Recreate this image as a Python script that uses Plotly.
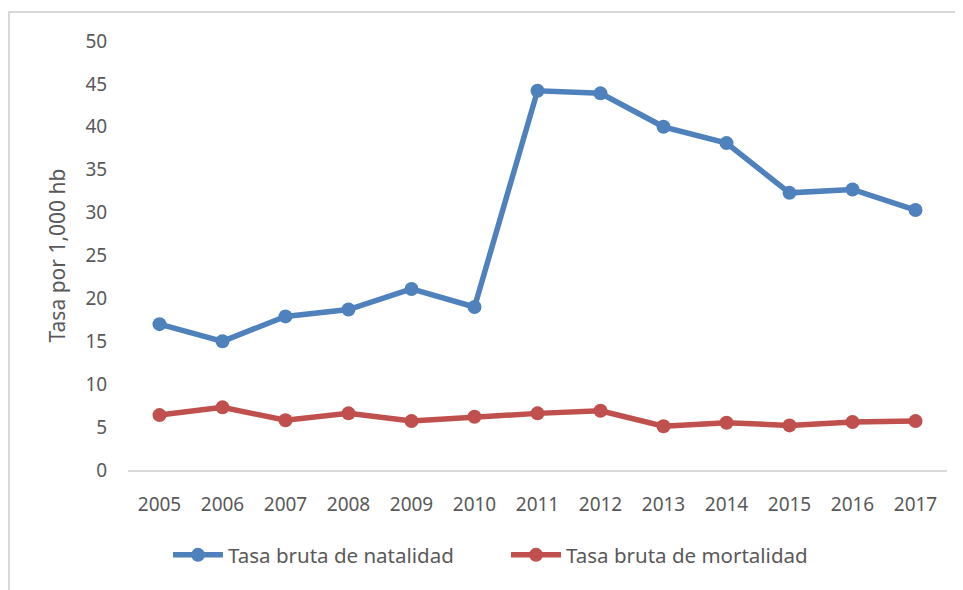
import plotly.graph_objects as go

years = ["2005", "2006", "2007", "2008", "2009", "2010", "2011", "2012", "2013", "2014", "2015", "2016", "2017"]
natalidad = [17.0, 15.0, 17.9, 18.7, 21.1, 19.0, 44.2, 43.9, 40.0, 38.1, 32.3, 32.7, 30.3]
mortalidad = [6.4, 7.3, 5.8, 6.6, 5.7, 6.2, 6.6, 6.9, 5.1, 5.5, 5.2, 5.6, 5.7]
y_ticks = [0, 5, 10, 15, 20, 25, 30, 35, 40, 45, 50]

FONT = "Noto Sans"
GRAY = "#595959"

fig = go.Figure()
fig.add_trace(go.Scatter(
    x=years, y=natalidad, mode="lines+markers", name="Tasa bruta de natalidad",
    line=dict(color="#4F81BD", width=5.5), marker=dict(size=14, color="#4F81BD"),
))
fig.add_trace(go.Scatter(
    x=years, y=mortalidad, mode="lines+markers", name="Tasa bruta de mortalidad",
    line=dict(color="#C0504D", width=5.5), marker=dict(size=14, color="#C0504D"),
))

# page has an 8px body margin; figure coordinates = page coordinates - 8
OFF = 8
L, R, T, B = 120, 16, 33, 120
W, H = 955, 582
pw = W - L - R
ph = H - T - B

def px(x):
    return (x - OFF - L) / pw

def py(y):
    return (H - B - (y - OFF)) / ph

fig.update_layout(
    width=W, height=H,
    margin=dict(l=L, r=R, t=T, b=B),
    paper_bgcolor="white", plot_bgcolor="white",
    font=dict(family=FONT, color=GRAY, size=19),
    showlegend=True,
    legend=dict(orientation="h", x=px(168), y=py(555), xanchor="left", yanchor="middle",
                font=dict(size=20.5, color=GRAY), itemwidth=50, traceorder="normal",
                entrywidth=273, entrywidthmode="pixels"),
    xaxis=dict(
        type="category", range=[-0.5, 12.5], showgrid=False, zeroline=False,
        showline=True, linecolor="#D9D9D9", linewidth=2,
        ticks="outside", ticklen=16, tickcolor="rgba(0,0,0,0)",
        tickfont=dict(size=19, color=GRAY),
    ),
    yaxis=dict(
        range=[0, 50], tickvals=y_ticks, showgrid=False, zeroline=False, showline=False,
        ticks="outside", ticklen=16, tickcolor="rgba(0,0,0,0)",
        tickfont=dict(size=19, color=GRAY),
        title=dict(text="Tasa por 1,000 hb", font=dict(size=21, color=GRAY), standoff=14),
    ),
    shapes=[
        dict(type="line", xref="paper", yref="paper", x0=px(8), x1=px(980), y0=py(12), y1=py(12),
             line=dict(color="#D9D9D9", width=2)),
        dict(type="line", xref="paper", yref="paper", x0=px(9), x1=px(9), y0=py(12), y1=py(600),
             line=dict(color="#D9D9D9", width=2)),
    ],
)

fig.write_html("out.html")
